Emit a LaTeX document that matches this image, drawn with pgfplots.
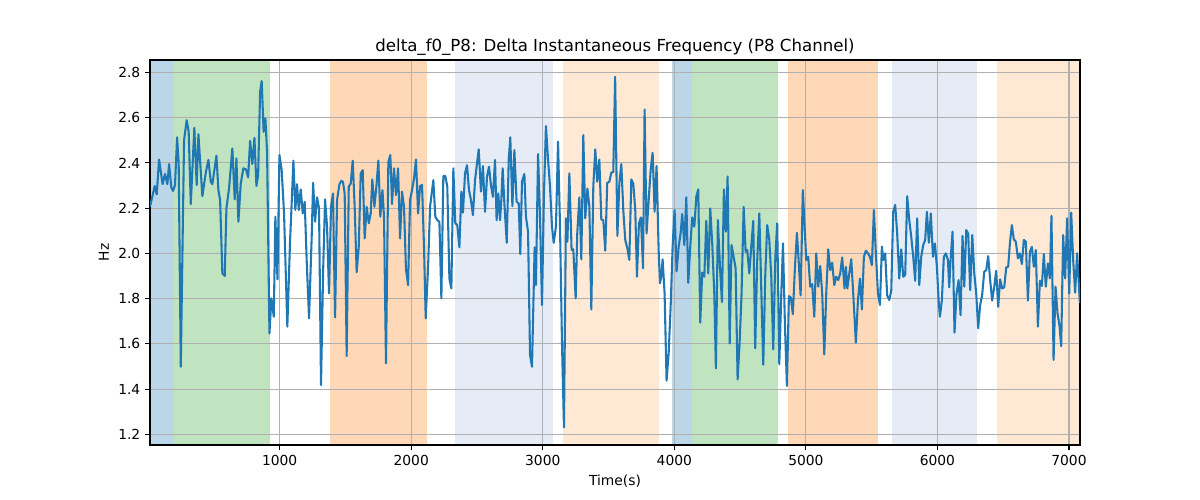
\documentclass[border=0pt]{standalone}
\usepackage{pgfplots}
\pgfplotsset{compat=1.18}
\usepackage{fontspec}
\setmainfont{DejaVu Sans}
\definecolor{tabblue}{RGB}{31,119,180}
\definecolor{spanblue}{RGB}{188,214,233}
\definecolor{spangreen}{RGB}{192,227,192}
\definecolor{spanorange}{RGB}{255,217,183}
\definecolor{spanlblue}{RGB}{229,236,246}
\definecolor{spanlorange}{RGB}{255,233,213}
\definecolor{gridgray}{RGB}{176,176,176}

\pgfplotstableread{
t v
14 2.206
50 2.298
65 2.261
83 2.415
110 2.306
128 2.351
146 2.306
159 2.395
176 2.292
189 2.276
204 2.302
220 2.513
232 2.398
248 1.499
273 2.501
293 2.589
308 2.538
324 2.218
351 2.555
369 2.302
382 2.527
412 2.253
438 2.357
458 2.413
476 2.317
488 2.306
519 2.432
534 2.280
547 2.236
564 1.912
582 1.900
595 2.199
615 2.287
640 2.464
658 2.239
671 2.420
686 2.140
704 2.309
724 2.376
744 2.371
760 2.336
775 2.498
792 2.395
808 2.511
823 2.298
836 2.346
851 2.714
863 2.762
878 2.537
891 2.597
904 2.450
922 1.646
937 1.801
955 1.720
967 2.162
983 1.885
998 2.435
1015 2.368
1033 2.177
1058 1.676
1079 2.059
1089 2.192
1104 2.410
1119 2.192
1132 2.306
1145 2.192
1160 2.283
1175 2.177
1190 2.228
1205 1.970
1223 1.713
1243 2.070
1254 2.312
1269 2.140
1284 2.248
1299 2.199
1314 1.418
1330 1.920
1345 2.239
1360 2.118
1375 1.823
1390 2.206
1405 2.265
1421 1.717
1436 2.236
1454 2.306
1469 2.321
1481 2.316
1494 2.265
1509 1.546
1525 2.295
1540 2.309
1555 2.410
1570 2.206
1585 1.917
1601 2.030
1616 2.354
1631 2.368
1646 2.066
1661 2.206
1677 2.133
1692 2.177
1704 2.327
1720 2.206
1735 2.295
1750 2.410
1765 2.162
1781 2.280
1793 2.162
1808 1.514
1826 2.405
1841 2.435
1854 2.218
1869 2.376
1884 2.258
1900 2.376
1915 2.066
1930 2.273
1945 2.206
1960 1.929
1976 1.860
1991 2.236
2006 2.280
2021 2.331
2036 2.415
2052 2.177
2067 2.298
2082 2.302
2097 2.030
2110 1.713
2128 1.941
2143 2.206
2168 2.324
2183 2.162
2198 2.147
2214 2.140
2229 1.801
2244 2.342
2259 2.342
2274 2.295
2290 1.889
2305 1.845
2320 2.376
2335 2.133
2350 2.125
2366 2.027
2381 2.273
2393 2.180
2409 2.354
2424 2.390
2439 2.280
2454 2.236
2469 2.169
2485 2.324
2500 2.398
2513 2.460
2530 2.273
2545 2.386
2561 2.184
2576 2.339
2591 2.383
2606 2.302
2621 2.250
2637 2.413
2649 2.147
2662 2.265
2675 2.147
2685 2.236
2695 2.376
2708 2.221
2726 2.047
2741 2.413
2753 2.513
2769 2.209
2784 2.457
2801 2.228
2817 2.221
2829 1.997
2842 2.317
2860 2.351
2872 2.162
2888 2.096
2903 1.551
2918 1.499
2938 2.027
2948 1.860
2964 2.439
2979 2.162
2994 1.772
3009 2.265
3024 2.563
3040 2.413
3055 2.295
3070 2.118
3083 2.047
3100 2.118
3116 2.494
3131 2.118
3146 1.602
3161 1.231
3176 2.155
3187 2.052
3202 2.354
3219 2.015
3232 2.018
3250 1.801
3262 2.088
3278 2.248
3293 1.973
3308 2.523
3323 2.155
3339 2.287
3354 2.206
3369 1.752
3384 2.295
3399 2.460
3414 2.317
3430 2.415
3445 2.150
3460 2.147
3475 2.012
3490 2.312
3506 2.317
3521 2.357
3536 2.360
3550 2.781
3567 2.077
3582 2.309
3597 2.395
3612 2.192
3627 2.059
3643 2.022
3658 1.971
3673 2.327
3688 2.309
3703 2.192
3716 1.897
3731 2.133
3746 2.159
3762 1.934
3774 2.636
3789 2.088
3805 2.236
3820 2.368
3835 2.445
3850 2.184
3865 2.386
3881 2.010
3891 1.868
3901 1.900
3911 1.974
3926 1.823
3941 1.437
3957 1.560
3972 1.764
3987 2.030
4002 2.192
4017 1.920
4033 2.030
4048 2.090
4060 2.174
4076 2.037
4091 2.248
4106 1.870
4121 2.030
4136 2.159
4152 2.118
4167 2.251
4182 2.283
4197 1.694
4212 1.915
4228 1.897
4243 2.144
4258 1.912
4273 2.199
4288 2.044
4304 1.820
4316 1.492
4331 2.147
4347 1.940
4362 1.785
4377 2.283
4392 2.096
4405 2.340
4421 1.602
4435 2.037
4451 1.985
4466 1.934
4481 1.443
4496 1.600
4511 1.820
4527 2.206
4542 2.007
4554 2.015
4570 1.912
4585 2.030
4600 2.144
4615 1.580
4630 1.970
4646 2.177
4661 1.840
4676 1.508
4691 1.897
4706 2.125
4722 2.059
4737 1.897
4752 1.576
4767 1.970
4782 2.133
4798 1.510
4813 1.820
4826 2.044
4841 1.680
4856 1.414
4871 1.811
4886 1.805
4901 1.731
4917 1.940
4932 2.091
4945 1.970
4960 1.814
4977 2.280
4993 2.088
5003 1.971
5018 1.985
5033 1.853
5048 1.864
5064 1.720
5079 2.000
5094 1.853
5109 1.944
5124 1.823
5140 1.554
5155 1.823
5170 2.018
5185 1.926
5200 1.959
5216 1.860
5231 1.897
5246 1.882
5261 1.911
5276 1.982
5294 1.845
5304 1.941
5315 1.845
5330 1.911
5345 1.974
5360 1.823
5380 1.605
5396 1.794
5411 1.889
5426 1.752
5441 1.985
5456 2.012
5472 2.000
5487 1.985
5502 1.948
5517 2.192
5532 2.000
5548 1.823
5563 1.772
5578 2.030
5588 1.971
5603 2.000
5618 1.814
5634 1.794
5649 1.835
5664 2.184
5679 2.214
5694 2.089
5710 1.889
5725 2.018
5740 1.897
5755 1.904
5770 2.253
5786 2.147
5801 2.074
5816 1.985
5831 1.879
5846 2.155
5862 1.860
5877 1.985
5892 2.037
5907 2.059
5920 2.184
5935 2.047
5950 2.177
5966 1.985
5981 2.044
5996 1.941
6009 1.794
6019 1.720
6034 1.794
6049 1.985
6064 2.000
6080 1.971
6090 1.850
6100 1.970
6115 2.096
6130 1.650
6145 1.820
6161 1.882
6176 1.727
6191 2.077
6204 1.853
6219 2.103
6234 2.088
6249 1.838
6265 2.081
6280 1.912
6295 1.823
6310 1.669
6325 1.772
6340 1.816
6356 1.919
6371 1.926
6386 1.988
6401 1.882
6416 1.791
6432 1.853
6447 1.923
6462 1.764
6477 1.885
6492 1.845
6508 1.850
6523 1.938
6538 1.941
6551 2.044
6566 2.125
6581 2.062
6596 2.052
6612 1.978
6627 2.000
6642 1.953
6657 2.059
6672 2.052
6688 1.791
6703 2.007
6718 2.029
6733 1.941
6748 2.015
6764 1.676
6779 1.879
6794 1.856
6809 1.997
6824 1.853
6840 1.956
6855 1.889
6867 2.166
6883 1.529
6898 1.853
6913 1.735
6928 1.680
6941 1.590
6956 2.081
6971 1.889
6986 2.155
7002 1.823
7017 2.180
7032 1.971
7047 1.826
7062 2.000
7083 1.780
}\datatable

\begin{document}
\begin{tikzpicture}
\begin{axis}[
  set layers,
  at={(0,0)}, anchor=south west,
  scale only axis, width=9.3in, height=3.85in,
  xmin=14, xmax=7084, ymin=1.153, ymax=2.855,
  xtick={1000,2000,3000,4000,5000,6000,7000},
  ytick={1.2,1.4,1.6,1.8,2.0,2.2,2.4,2.6,2.8},
  yticklabel style={/pgf/number format/.cd, fixed, fixed zerofill, precision=1},
  xticklabel style={/pgf/number format/.cd, 1000 sep={}},
  /pgf/number format/assume math mode=true,
  scaled ticks=false,
  tick pos=left,
  tick align=outside,
  major tick length=3.5pt,
  tick style={black, line width=0.8pt},
  axis line style={black, line width=0.8pt},
  grid=major,
  major grid style={gridgray, line width=0.8pt},
  ticklabel style={font=\fontsize{10}{12}\selectfont},
  label style={font=\fontsize{10}{12}\selectfont},
  title style={font=\fontsize{12}{14}\selectfont, at={(0.5,1)}, anchor=base, yshift=0pt},
  title={delta\_f0\_P8: Delta Instantaneous Frequency (P8 Channel)},
  xlabel={Time(s)},
  ylabel={Hz},
]
\addplot[fill=spanblue, draw=none, forget plot, on layer=axis background] coordinates {(14,1.153) (194,1.153) (194,2.855) (14,2.855)};
\addplot[fill=spangreen, draw=none, forget plot, on layer=axis background] coordinates {(194,1.153) (927,1.153) (927,2.855) (194,2.855)};
\addplot[fill=spanorange, draw=none, forget plot, on layer=axis background] coordinates {(1386,1.153) (2121,1.153) (2121,2.855) (1386,2.855)};
\addplot[fill=spanlblue, draw=none, forget plot, on layer=axis background] coordinates {(2336,1.153) (3081,1.153) (3081,2.855) (2336,2.855)};
\addplot[fill=spanlorange, draw=none, forget plot, on layer=axis background] coordinates {(3150,1.153) (3885,1.153) (3885,2.855) (3150,2.855)};
\addplot[fill=spanblue, draw=none, forget plot, on layer=axis background] coordinates {(3979,1.153) (4133,1.153) (4133,2.855) (3979,2.855)};
\addplot[fill=spangreen, draw=none, forget plot, on layer=axis background] coordinates {(4133,1.153) (4790,1.153) (4790,2.855) (4133,2.855)};
\addplot[fill=spanorange, draw=none, forget plot, on layer=axis background] coordinates {(4861,1.153) (5551,1.153) (5551,2.855) (4861,2.855)};
\addplot[fill=spanlblue, draw=none, forget plot, on layer=axis background] coordinates {(5652,1.153) (6301,1.153) (6301,2.855) (5652,2.855)};
\addplot[fill=spanlorange, draw=none, forget plot, on layer=axis background] coordinates {(6451,1.153) (7084,1.153) (7084,2.855) (6451,2.855)};
\addplot[tabblue, line width=1.5pt, line join=round, mark=none] table[x=t, y=v] {\datatable};
\end{axis}
\pgfresetboundingbox
\path[use as bounding box] (-1.5in,-0.55in) rectangle (10.5in,4.45in);
\end{tikzpicture}
\end{document}
